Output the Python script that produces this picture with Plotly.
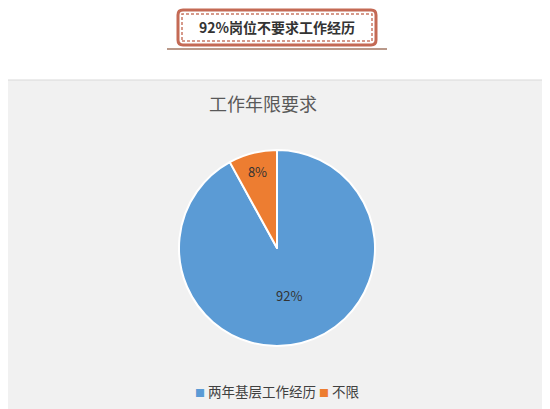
import plotly.graph_objects as go

# 数据
categories = ['两年基层工作经历', '不限']
values = [92, 8]
colors = ['#5B9BD5', '#ED7D31']

W, H = 550, 409
OFF = 8  # 页面 body 默认边距，整体往左上补偿
FONT = 'Noto Sans CJK SC'


def px(x):
    return (x - OFF) / W


def py(y):
    return 1 - (y - OFF) / H


def rounded_rect(x0, y0, x1, y1, r):
    # 圆角矩形路径 (像素坐标 -> paper)
    X = lambda v: f'{px(v):.5f}'
    Y = lambda v: f'{py(v):.5f}'
    return (f'M {X(x0 + r)},{Y(y0)} L {X(x1 - r)},{Y(y0)} '
            f'Q {X(x1)},{Y(y0)} {X(x1)},{Y(y0 + r)} L {X(x1)},{Y(y1 - r)} '
            f'Q {X(x1)},{Y(y1)} {X(x1 - r)},{Y(y1)} L {X(x0 + r)},{Y(y1)} '
            f'Q {X(x0)},{Y(y1)} {X(x0)},{Y(y1 - r)} L {X(x0)},{Y(y0 + r)} '
            f'Q {X(x0)},{Y(y0)} {X(x0 + r)},{Y(y0)} Z')


fig = go.Figure()

fig.add_trace(go.Pie(
    labels=categories,
    values=values,
    marker=dict(colors=colors, line=dict(color='white', width=2)),
    sort=False,
    direction='clockwise',
    rotation=0,
    textinfo='percent',
    textposition='inside',
    insidetextfont=dict(size=13, color='#333333', family=FONT),
    domain=dict(x=[px(179), px(375)], y=[py(346), py(150)]),
    hoverinfo='label+percent',
    showlegend=False,
))

shapes = [
    # 图表区背景
    dict(type='rect', xref='paper', yref='paper',
         x0=px(0), x1=px(551), y0=py(420), y1=py(80),
         fillcolor='#F1F1F1', line=dict(color='#D9D9D9', width=1), layer='below'),
    # 标题框
    dict(type='path', xref='paper', yref='paper',
         path=rounded_rect(178, 10, 376, 45, 5),
         fillcolor='white', line=dict(color='#C46A55', width=3)),
    dict(type='rect', xref='paper', yref='paper',
         x0=px(182), x1=px(372), y0=py(41), y1=py(14),
         fillcolor='rgba(0,0,0,0)', line=dict(color='#C97A66', width=1.5, dash='3px,2px')),
    # 标题下横线
    dict(type='line', xref='paper', yref='paper',
         x0=px(167), x1=px(387), y0=py(49), y1=py(49),
         line=dict(color='#B9998A', width=2)),
]

# 图例（色块 + 文字）
legend_text = ' '.join(
    f'<span style="color:{c};font-size:10px">■</span> {lab}' for lab, c in zip(categories, colors)
)

annotations = [
    dict(text='<b>92%岗位不要求工作经历</b>', x=px(277), y=py(27.5),
         xref='paper', yref='paper', xanchor='center', yanchor='middle', showarrow=False,
         font=dict(size=14, color='#333333', family=FONT)),
    dict(text='工作年限要求', x=px(263), y=py(103),
         xref='paper', yref='paper', xanchor='center', yanchor='middle', showarrow=False,
         font=dict(size=18, color='#595959', family=FONT)),
    dict(text=legend_text, x=px(277), y=py(391),
         xref='paper', yref='paper', xanchor='center', yanchor='middle', showarrow=False,
         font=dict(size=13.5, color='#404040', family=FONT)),
]

fig.update_layout(
    width=W, height=H,
    margin=dict(l=0, r=0, t=0, b=0),
    paper_bgcolor='white',
    plot_bgcolor='white',
    font=dict(family=FONT, color='#404040'),
    shapes=shapes,
    annotations=annotations,
    showlegend=False,
)

fig.write_html('out.html')
